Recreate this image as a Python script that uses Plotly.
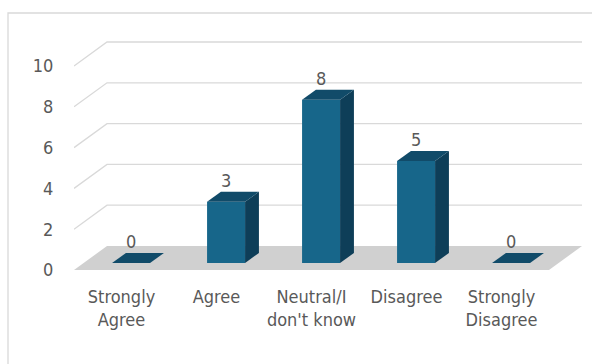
import plotly.graph_objects as go

categories = ["Strongly<br>Agree", "Agree", "Neutral/I<br>don't know", "Disagree", "Strongly<br>Disagree"]
values = [0, 3, 8, 5, 0]
tick_values = [0, 2, 4, 6, 8, 10]

W, H = 592, 364
L, R, T, B = 74, 10, 40, 94
px_x = 95.0          # pixels per category
px_y = 20.4          # pixels per unit value
DX = 33 / px_x       # oblique depth offset (x, data units)
DY = 24 / px_y       # oblique depth offset (y, data units)
z0, z1 = 0.29, 0.71  # bar depth band (fraction of floor depth)
hw = 0.2             # half bar width

x_min = -0.5
x_max = x_min + (W - L - R) / px_x
y_max = (H - T - B) / px_y

FRONT = "#17668a"
SIDE = "#0e3e58"
TOP = "#114b69"
FLOOR = "#d0d0d0"
GRID = "#d9d9d9"
TXT = "#595959"
FONT = "Liberation Sans Narrow, DejaVu Sans Condensed, Roboto, sans-serif"

def P(x, v, z):
    return x + z * DX, v + z * DY

def poly(pts, color):
    xs = [p[0] for p in pts] + [pts[0][0]]
    ys = [p[1] for p in pts] + [pts[0][1]]
    return go.Scatter(x=xs, y=ys, mode="lines", fill="toself", fillcolor=color,
                      line=dict(width=0, color=color), hoverinfo="skip", showlegend=False)

fig = go.Figure()

n = len(categories)
# gridlines (back wall + left diagonal)
for v in tick_values[1:]:
    a = P(x_min, v, 0)
    b = P(x_min, v, 1)
    c = P(x_min + n, v, 1)
    fig.add_trace(go.Scatter(x=[a[0], b[0], c[0]], y=[a[1], b[1], c[1]], mode="lines",
                             line=dict(color=GRID, width=1.3), hoverinfo="skip", showlegend=False))

# floor
fig.add_trace(poly([P(x_min, 0, 0), P(x_min + n, 0, 0), P(x_min + n, 0, 1), P(x_min, 0, 1)], FLOOR))

# bars
lx, ly, lt = [], [], []
for i, v in enumerate(values):
    xl, xr = i - hw, i + hw
    if v > 0:
        fig.add_trace(poly([P(xl, 0, z0), P(xr, 0, z0), P(xr, v, z0), P(xl, v, z0)], FRONT))
        fig.add_trace(poly([P(xr, 0, z0), P(xr, 0, z1), P(xr, v, z1), P(xr, v, z0)], SIDE))
    fig.add_trace(poly([P(xl, v, z0), P(xr, v, z0), P(xr, v, z1), P(xl, v, z1)], TOP))
    tx, _ = P(i, v, z0)
    _, ty = P(i, v, z1)
    lx.append(tx)
    ly.append(ty)
    lt.append(str(v))

fig.add_trace(go.Scatter(x=lx, y=ly, mode="text", text=lt, textposition="top center",
                         textfont=dict(family=FONT, size=18, color=TXT),
                         hoverinfo="skip", showlegend=False, cliponaxis=False))

# frame border
fig.add_shape(type="rect", xref="paper", yref="paper",
              x0=(8 - L) / (W - L - R), x1=(W + 20 - L) / (W - L - R),
              y0=-(H + 20 - (H - B)) / (H - T - B), y1=1 + (T - 13) / (H - T - B),
              line=dict(color="#d9d9d9", width=1.3), layer="below")

fig.update_layout(
    width=W, height=H,
    margin=dict(l=L, r=R, t=T, b=B),
    paper_bgcolor="white", plot_bgcolor="white",
    font=dict(family=FONT, color=TXT, size=18),
    xaxis=dict(range=[x_min, x_max], showgrid=False, zeroline=False, showline=False,
               tickmode="array", tickvals=list(range(n)), ticktext=categories,
               ticks="outside", ticklen=10, tickcolor="rgba(0,0,0,0)",
               tickfont=dict(family=FONT, size=18, color=TXT), fixedrange=True),
    yaxis=dict(range=[0, y_max], showgrid=False, zeroline=False, showline=False,
               tickmode="array", tickvals=tick_values,
               ticks="outside", ticklen=16, tickcolor="rgba(0,0,0,0)",
               tickfont=dict(family=FONT, size=18, color=TXT), fixedrange=True),
)

fig.write_html("out.html")
